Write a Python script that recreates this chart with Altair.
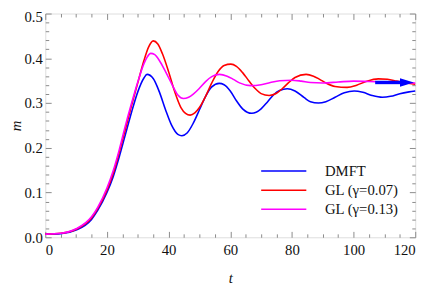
import altair as alt
import pandas as pd

# ---- data ----
t_dmft = [0, 5, 10, 15, 17, 20, 22, 24, 26, 28, 30, 32, 33, 35, 37, 39, 41, 43, 44.3, 46, 48, 50, 52, 54, 56.4,
          58, 60, 62, 64, 67, 70, 72, 74, 76, 78.5, 81, 84, 86, 88.6, 91, 94, 97, 100.2, 103, 106, 109.3, 112,
          115, 118, 120]
m_dmft = [0.007, 0.008, 0.016, 0.040, 0.060, 0.100, 0.135, 0.180, 0.230, 0.280, 0.325, 0.356, 0.364, 0.355,
          0.325, 0.285, 0.250, 0.230, 0.227, 0.233, 0.255, 0.285, 0.315, 0.336, 0.344, 0.341, 0.327, 0.305,
          0.287, 0.277, 0.287, 0.302, 0.318, 0.328, 0.332, 0.327, 0.312, 0.303, 0.300, 0.303, 0.313, 0.323,
          0.327, 0.324, 0.317, 0.313, 0.315, 0.321, 0.325, 0.327]

t_gl07 = [0, 5, 10, 15, 17, 20, 22, 24, 26, 28, 30, 32, 33.5, 35, 36.5, 38, 40, 42, 44, 45.5, 47, 48.5, 50, 52,
          54, 56, 58, 60.2, 62, 64, 66, 68, 70, 72.6, 75, 77, 79, 81, 84.6, 87, 89, 91, 94, 97.9, 101, 104, 108,
          111, 114, 117, 120]
m_gl07 = [0.007, 0.009, 0.018, 0.043, 0.064, 0.105, 0.142, 0.190, 0.242, 0.295, 0.345, 0.395, 0.425, 0.439,
          0.432, 0.410, 0.370, 0.325, 0.290, 0.277, 0.273, 0.278, 0.290, 0.315, 0.345, 0.370, 0.384, 0.387,
          0.382, 0.368, 0.350, 0.333, 0.321, 0.317, 0.322, 0.333, 0.346, 0.357, 0.364, 0.360, 0.353, 0.345,
          0.337, 0.335, 0.340, 0.348, 0.354, 0.353, 0.349, 0.345, 0.342]

t_gl13 = [0, 5, 10, 15, 17, 20, 22, 24, 26, 28, 30, 32, 33, 34.2, 35.5, 37, 39, 41, 43, 44.8, 46.5, 48, 50, 52,
          54, 56.5, 59, 61, 63, 66.6, 70, 73, 76, 79.8, 83, 86, 90, 95, 100, 105, 110, 115, 120]
m_gl13 = [0.007, 0.009, 0.019, 0.046, 0.067, 0.110, 0.148, 0.196, 0.250, 0.300, 0.347, 0.388, 0.402, 0.411,
          0.408, 0.395, 0.370, 0.343, 0.318, 0.310, 0.313, 0.320, 0.333, 0.348, 0.359, 0.364, 0.360, 0.353,
          0.345, 0.339, 0.341, 0.346, 0.350, 0.351, 0.349, 0.346, 0.345, 0.347, 0.349, 0.348, 0.347, 0.346,
          0.345]

series_names = ["DMFT", "GL (γ=0.07)", "GL (γ=0.13)"]
series_colors = ["#0000ff", "#ff0000", "#ff00ff"]

arrow_shaft_t = [107, 116]
arrow_head_t = [117.3]
arrow_m = 0.346

x_major = [0, 20, 40, 60, 80, 100, 120]
x_minor = [5, 10, 15, 25, 30, 35, 45, 50, 55, 65, 70, 75, 85, 90, 95, 105, 110, 115]
y_major = [0.0, 0.1, 0.2, 0.3, 0.4, 0.5]
y_minor = [0.02, 0.04, 0.06, 0.08, 0.12, 0.14, 0.16, 0.18, 0.22, 0.24, 0.26, 0.28,
           0.32, 0.34, 0.36, 0.38, 0.42, 0.44, 0.46, 0.48]

rows = []
for name, ts, ms in zip(series_names, [t_dmft, t_gl07, t_gl13], [m_dmft, m_gl07, m_gl13]):
    for t, m in zip(ts, ms):
        rows.append({"series": name, "t": t, "m": m})
df = pd.DataFrame(rows)

shaft_df = pd.DataFrame({"t": arrow_shaft_t, "m": [arrow_m] * len(arrow_shaft_t)})
head_df = pd.DataFrame({"t": arrow_head_t, "m": [arrow_m] * len(arrow_head_t)})

xscale = alt.Scale(domain=[0, 120], nice=False, zero=False)
yscale = alt.Scale(domain=[0, 0.5], nice=False, zero=False)

FONT = "Liberation Serif"
TXT = "#111111"
TICK = "#8a8a8a"

text_style = dict(labelFont=FONT, labelFontSize=15, labelColor=TXT,
                  titleFont=FONT, titleFontSize=15, titleColor=TXT,
                  titleFontStyle="italic", titleFontWeight="normal")

lines = alt.Chart(df).mark_line(strokeWidth=1.6, interpolate="monotone").encode(
    x=alt.X("t:Q", scale=xscale,
            axis=alt.Axis(orient="bottom", values=x_major, format="d", title="t", ticks=False, tickSize=0,
                          domain=False, grid=False, labelPadding=6, titlePadding=13, **text_style)),
    y=alt.Y("m:Q", scale=yscale,
            axis=alt.Axis(orient="left", values=y_major[:-1], format=".1f", title="m", ticks=False,
                          tickSize=0, domain=False, grid=False, labelPadding=3, titlePadding=0,
                          labelFlush=False, **text_style)),
    color=alt.Color("series:N", sort=series_names,
                    scale=alt.Scale(domain=series_names, range=series_colors),
                    legend=alt.Legend(orient="none", legendX=219, legendY=153, title=None,
                                      symbolType="stroke", symbolSize=2116, symbolStrokeWidth=1.6,
                                      clipHeight=15, rowPadding=3.5, labelOffset=18, padding=0,
                                      labelFont=FONT, labelFontSize=15, labelColor=TXT)),
)

# top y label (0.5), nudged down slightly so it is not cut off at the chart's top edge
top_label = alt.Chart(df).mark_point(opacity=0).encode(
    x=alt.X("t:Q", scale=xscale, axis=None),
    y=alt.Y("m:Q", scale=yscale,
            axis=alt.Axis(orient="left", values=y_major[-1:], format=".1f", title=None, ticks=False,
                          tickSize=0, domain=False, grid=False, labelPadding=3, labelFlush=False,
                          labelOffset=3, labelFont=FONT, labelFontSize=15, labelColor=TXT)),
)


def tick_layer(xorient, yorient, xvals, yvals, size):
    return alt.Chart(df).mark_point(opacity=0).encode(
        x=alt.X("t:Q", scale=xscale,
                axis=alt.Axis(orient=xorient, values=xvals, labels=False, domain=False, grid=False,
                              ticks=True, tickSize=size, offset=-size, title=None,
                              tickColor=TICK, tickWidth=1)),
        y=alt.Y("m:Q", scale=yscale,
                axis=alt.Axis(orient=yorient, values=yvals, labels=False, domain=False, grid=False,
                              ticks=True, tickSize=size, offset=-size, title=None,
                              tickColor=TICK, tickWidth=1)),
    )


ticks_bl_major = tick_layer("bottom", "left", x_major, y_major, 6)
ticks_bl_minor = tick_layer("bottom", "left", x_minor, y_minor, 3.5)
ticks_tr_major = tick_layer("top", "right", x_major, y_major, 6)
ticks_tr_minor = tick_layer("top", "right", x_minor, y_minor, 3.5)

shaft = alt.Chart(shaft_df).mark_line(color="#0000ff", strokeWidth=3.5).encode(
    x=alt.X("t:Q", scale=xscale, axis=None),
    y=alt.Y("m:Q", scale=yscale, axis=None),
)
head = alt.Chart(head_df).mark_point(shape="M-1,-0.6L1,0L-1,0.6Z", size=200, filled=True,
                                     color="#0000ff", opacity=1, strokeWidth=0).encode(
    x=alt.X("t:Q", scale=xscale, axis=None),
    y=alt.Y("m:Q", scale=yscale, axis=None),
)

chart = alt.layer(
    ticks_bl_major, ticks_bl_minor, ticks_tr_major, ticks_tr_minor, top_label, lines, shaft, head
).resolve_axis(x="independent", y="independent").properties(
    width=377, height=228,
    autosize=alt.AutoSizeParams(type="none"),
    padding={"left": 38, "top": 3, "right": 13, "bottom": 48},
).configure_view(
    stroke="#9a9a9a", strokeWidth=1
).configure(background="white")

chart.save("out.html", embed_options={"renderer": "svg", "actions": False})
